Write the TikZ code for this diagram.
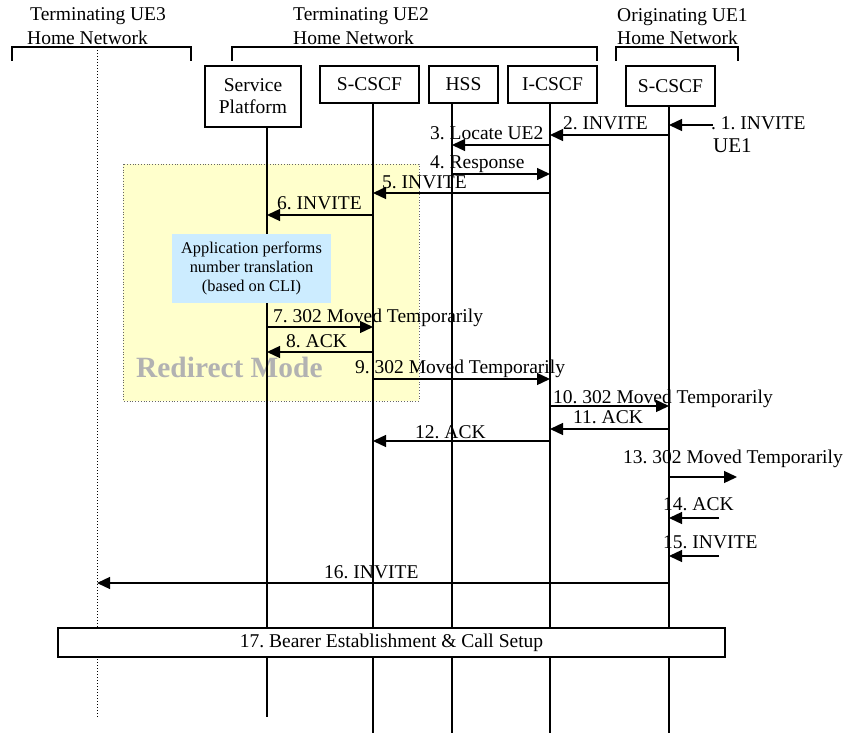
\documentclass[tikz,border=0pt]{standalone}
\usepackage{fontspec}
\setmainfont{Liberation Serif}
\usetikzlibrary{arrows.meta}
\definecolor{bgyellow}{HTML}{FFFFCC}
\definecolor{bgblue}{HTML}{CCECFF}
\definecolor{modegrey}{HTML}{B2B2B2}
\begin{document}
\frenchspacing
\begin{tikzpicture}[x=1pt,y=-1pt,
  every node/.style={font=\fontsize{19.5}{22}\selectfont, inner sep=0pt},
  ent/.style={draw, line width=1.3pt, minimum height=37pt, align=center},
  life/.style={line width=1.3pt},
  msg/.style={line width=1.3pt, -{Triangle[length=13pt,width=12pt]}},
  lbl/.style={anchor=base west},
  brk/.style={line width=1.3pt}]
\useasboundingbox (0,0) rectangle (854,733);
% redirect area
\fill[bgyellow] (123,164) rectangle (419,401);
\draw[dotted, line width=0.8pt, black!60] (123,164) rectangle (419,401);
\node[lbl, font=\fontsize{29.4}{32}\selectfont\bfseries, text=modegrey] (mode) at (136,377) {Redirect Mode};
% headers
\node[lbl] (h3a) at (30,21) {Terminating UE3};
\node[lbl] (h3b) at (27,45) {Home Network};
\node[lbl] (h2a) at (293,21) {Terminating UE2};
\node[lbl] (h2b) at (293,45) {Home Network};
\node[lbl] (h1a) at (617,22) {Originating UE1};
\node[lbl] (h1b) at (617,45) {Home Network};
\draw[brk] (12,61) -- (12,47) -- (191,47) -- (191,61);
\draw[brk] (232,61) -- (232,47) -- (597,47) -- (597,61);
\draw[brk] (616,61) -- (616,47) -- (738,47) -- (738,61);
% entities
\node[ent, minimum width=96pt, minimum height=61pt] (sp) at (253,96.5) {Service\\Platform};
\node[ent, minimum width=99pt] (ss) at (369.5,84.5) {S-CSCF};
\node[ent, minimum width=69pt] (hss) at (463.5,84.5) {HSS};
\node[ent, minimum width=89pt] (ic) at (552.5,84.5) {I-CSCF};
\node[ent, minimum width=89pt, minimum height=40pt] (os) at (670.5,86) {S-CSCF};
% lifelines
\coordinate (lue3) at (97,47);
\coordinate (lsp) at (267,127);
\coordinate (lss) at (373,104);
\coordinate (lhss) at (452,104);
\coordinate (lic) at (550,104);
\coordinate (lo) at (669,106);
\draw[dotted, line width=1pt] (lue3) -- (lue3 |- 0,718);
\draw[life] (lsp) -- (lsp |- 0,717);
\draw[life] (lss) -- (lss |- 0,733);
\draw[life] (lhss) -- (lhss |- 0,733);
\draw[life] (lic) -- (lic |- 0,733);
\draw[life] (lo) -- (lo |- 0,733);
% note
\node[fill=bgblue, minimum width=159pt, minimum height=69pt, align=center,
  font=\fontsize{16.4}{19}\selectfont] (note) at (251.5,268.5)
  {Application performs\\number translation\\(based on CLI)};
% free ends
\coordinate (e1) at (713,125);
\coordinate (e13) at (737,477);
\coordinate (e14) at (719,518);
\coordinate (e15) at (719,556);
% messages
\draw[msg] (e1) -- (lo |- 0,125);
\draw[msg] (lo |- 0,135) -- (lic |- 0,135);
\draw[msg] (lic |- 0,145) -- (lhss |- 0,145);
\draw[msg] (lhss |- 0,174) -- (lic |- 0,174);
\draw[msg] (lic |- 0,193) -- (lss |- 0,193);
\draw[msg] (lss |- 0,215) -- (lsp |- 0,215);
\draw[msg] (lsp |- 0,327) -- (lss |- 0,327);
\draw[msg] (lss |- 0,352) -- (lsp |- 0,352);
\draw[msg] (lss |- 0,379) -- (lic |- 0,379);
\draw[msg] (lic |- 0,406) -- (lo |- 0,406);
\draw[msg] (lo |- 0,429) -- (lic |- 0,429);
\draw[msg] (lic |- 0,441) -- (lss |- 0,441);
\draw[msg] (lo |- 0,477) -- (e13);
\draw[msg] (e14) -- (lo |- 0,518);
\draw[msg] (e15) -- (lo |- 0,556);
\draw[msg] (lo |- 0,583) -- (lue3 |- 0,583);
% labels
\node[lbl] (t1) at (711,130) {. 1. INVITE};
\node[lbl, font=\fontsize{21}{24}\selectfont] (t1b) at (713,153) {UE1};
\node[lbl] (t2) at (563,130) {2. INVITE};
\node[lbl] (t3) at (430,140) {3. Locate UE2};
\node[lbl] (t4) at (430,168) {4. Response};
\node[lbl] (t5) at (382,188) {5. INVITE};
\node[lbl] (t6) at (277,209) {6. INVITE};
\node[lbl] (t7) at (273,322) {7. 302 Moved Temporarily};
\node[lbl] (t8) at (286,347) {8. ACK};
\node[lbl] (t9) at (355,373) {9. 302 Moved Temporarily};
\node[lbl] (t10) at (553,403) {10. 302 Moved Temporarily};
\node[lbl] (t11) at (573,423) {11. ACK};
\node[lbl] (t12) at (415,438) {12. ACK};
\node[lbl] (t13) at (623,463) {13. 302 Moved Temporarily};
\node[lbl] (t14) at (663,510) {14. ACK};
\node[lbl] (t15) at (663,548) {15. INVITE};
\node[lbl] (t16) at (324,578) {16. INVITE};
% bearer
\node[draw, fill=white, line width=1.6pt, minimum width=667pt, minimum height=29pt] (bearer) at (391.5,642.5) {17. Bearer Establishment \& Call Setup};
\end{tikzpicture}
\end{document}
